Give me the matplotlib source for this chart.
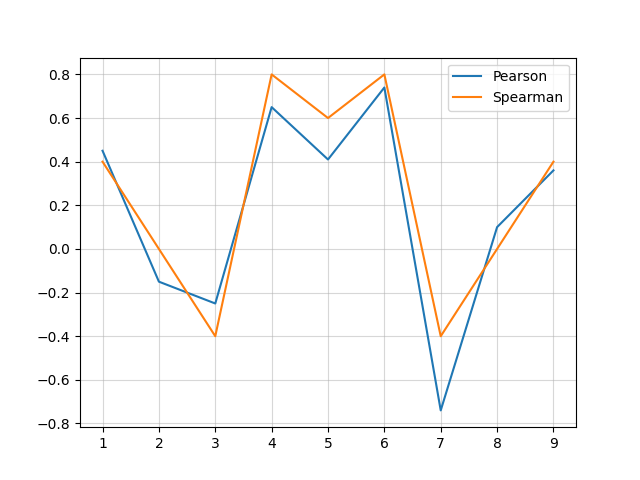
import matplotlib
matplotlib.use("Agg")
import matplotlib.pyplot as plt

# ---------------------------------------------------------------------------
# Data
# ---------------------------------------------------------------------------

positions = [1, 2, 3, 4, 5, 6, 7, 8, 9]
pearson = [0.45, -0.15, -0.25, 0.65, 0.41, 0.74, -0.74, 0.10, 0.36]
spearman = [0.4, 0.0, -0.4, 0.8, 0.6, 0.8, -0.4, 0.0, 0.4]

# ---------------------------------------------------------------------------
# Plot
# ---------------------------------------------------------------------------

fig, ax = plt.subplots(figsize=(6.4, 4.8), dpi=100)

ax.plot(positions, pearson, label="Pearson")
ax.plot(positions, spearman, label="Spearman")

ax.grid(True, alpha=0.5)
ax.set_xticks(positions)
ax.legend(loc="upper right")

fig.savefig("out.png", dpi=100)
